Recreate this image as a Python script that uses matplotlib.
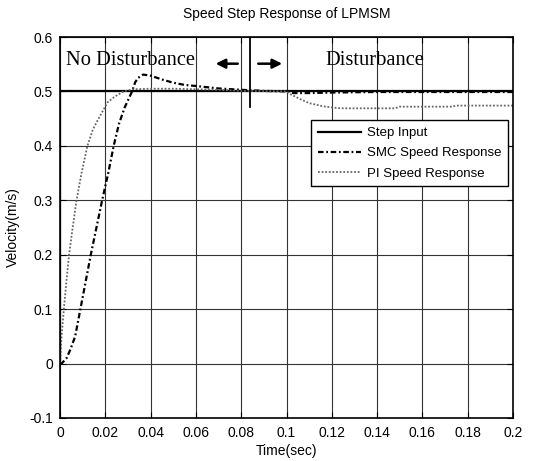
import matplotlib
matplotlib.use('Agg')
import matplotlib.pyplot as plt

plt.rcParams['font.family'] = ['Liberation Sans', 'DejaVu Sans']

# step input
step_t = [0, 0, 0.2]
step_v = [0, 0.5, 0.5]

# SMC speed response
smc_t = [0, 0.0007, 0.0029, 0.0045, 0.0067, 0.009, 0.0113, 0.0136, 0.0161, 0.0186,
         0.0213, 0.0237, 0.026, 0.0285, 0.0318, 0.0332, 0.0345, 0.0367, 0.040, 0.045,
         0.050, 0.055, 0.060, 0.070, 0.080, 0.090, 0.100, 0.103, 0.110, 0.120,
         0.140, 0.200]
smc_v = [0, 0.0, 0.01, 0.025, 0.05, 0.1, 0.15, 0.2, 0.25, 0.3,
         0.35, 0.4, 0.44, 0.47, 0.5, 0.517, 0.525, 0.531, 0.529, 0.522,
         0.516, 0.512, 0.51, 0.5055, 0.503, 0.501, 0.5, 0.497, 0.497, 0.498,
         0.499, 0.499]

# PI speed response
pi_t = [0, 0.0007, 0.0017, 0.0028, 0.004, 0.0056, 0.0073, 0.0095, 0.0121, 0.0145,
        0.017, 0.021, 0.024, 0.028, 0.032, 0.040, 0.050, 0.060, 0.070, 0.080,
        0.100, 0.1017, 0.106, 0.110, 0.1158, 0.120, 0.124, 0.148, 0.150, 0.173,
        0.175, 0.200]
pi_v = [0, 0.05, 0.1, 0.15, 0.2, 0.25, 0.3, 0.35, 0.4, 0.43,
        0.45, 0.48, 0.49, 0.5, 0.504, 0.505, 0.505, 0.504, 0.503, 0.501,
        0.5, 0.495, 0.486, 0.4785, 0.473, 0.4706, 0.469, 0.469, 0.472, 0.472,
        0.474, 0.474]

# disturbance marker
dist_t = [0.0839, 0.0839]
dist_v = [0.4706, 0.6]

x_ticks = [0, 0.02, 0.04, 0.06, 0.08, 0.1, 0.12, 0.14, 0.16, 0.18, 0.2]
x_labels = ['0', '0.02', '0.04', '0.06', '0.08', '0.1', '0.12', '0.14', '0.16', '0.18', '0.2']
y_ticks = [-0.1, 0, 0.1, 0.2, 0.3, 0.4, 0.5, 0.6]
y_labels = ['-0.1', '0', '0.1', '0.2', '0.3', '0.4', '0.5', '0.6']

fig = plt.figure(figsize=(5.43, 4.61), dpi=100)
ax = fig.add_axes([0.1105, 0.0933, 0.8343, 0.8264])

ax.plot(step_t, step_v, color='black', lw=1.6, label='Step Input')
ax.plot(smc_t, smc_v, color='black', lw=1.6, ls=(0, (2.5, 1.2, 0.8, 1.2)),
        label='SMC Speed Response')
ax.plot(pi_t, pi_v, color='#666666', lw=1.3, ls=(0, (1, 1)), label='PI Speed Response')
ax.plot(dist_t, dist_v, color='black', lw=1.3)

ax.annotate('', xy=(0.0675, 0.551), xytext=(0.0797, 0.551),
            arrowprops=dict(arrowstyle='-|>', color='black', lw=1.8, mutation_scale=14))
ax.annotate('', xy=(0.0993, 0.551), xytext=(0.0863, 0.551),
            arrowprops=dict(arrowstyle='-|>', color='black', lw=1.8, mutation_scale=14))
ax.text(0.0025, 0.557, 'No Disturbance', family='Liberation Serif', fontsize=14.8, va='center')
ax.text(0.1173, 0.557, 'Disturbance', family='Liberation Serif', fontsize=14.8, va='center')

ax.set_xlim(0, 0.2)
ax.set_ylim(-0.1, 0.6)
ax.set_xticks(x_ticks)
ax.set_xticklabels(x_labels)
ax.set_yticks(y_ticks)
ax.set_yticklabels(y_labels)
ax.tick_params(direction='in', top=True, right=True, labelsize=10, length=4)
ax.tick_params(axis='x', pad=6)
ax.tick_params(axis='y', pad=5)
ax.grid(True, color='#333333', lw=0.8)
for s in ax.spines.values():
    s.set_linewidth(1.2)

ax.set_title('Speed Step Response of LPMSM', fontsize=10, pad=14)
ax.set_xlabel('Time(sec)', fontsize=10, labelpad=3)
ax.set_ylabel('Velocity(m/s)', fontsize=10, labelpad=7)

leg = ax.legend(loc='upper right', bbox_to_anchor=(0.99, 0.781), fontsize=9.5,
                fancybox=False, edgecolor='black', framealpha=1, handlelength=3.3,
                handletextpad=0.45, borderaxespad=0, labelspacing=0.6, borderpad=0.5)
leg.get_frame().set_linewidth(1.0)

fig.savefig('out.png', dpi=100)
